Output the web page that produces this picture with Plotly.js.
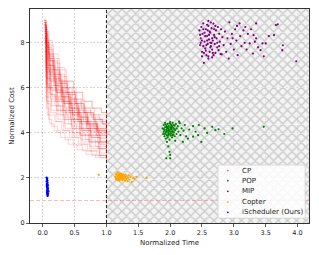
<!DOCTYPE html>
<html><head><meta charset="utf-8">
<script src="https://cdn.plot.ly/plotly-3.0.1.min.js"></script>
<style>html,body{margin:0;padding:0;background:#fff}#c{width:319px;height:255px}</style>
</head><body><div id="c"></div>
<script>
// ---- data ----
var xRange = [-0.2, 4.18];
var yRange = [0, 9.5];
var timeLimit = 1.0;
var targetCost = 1.0;
var xTicks = [0, 0.5, 1.0, 1.5, 2.0, 2.5, 3.0, 3.5, 4.0];
var yTicks = [0, 2, 4, 6, 8];
var seriesNames = ["CP", "POP", "MIP", "Copter", "iScheduler (Ours)"];
var seriesColors = ["red", "green", "purple", "orange", "blue"];

// CP anytime curves (normalized time, normalized cost)
var cpT = [
[0.02,0.05,0.09,0.16,0.27,0.38,0.52,0.66,0.81,1.0],
[0.03,0.06,0.12,0.2,0.31,0.45,0.58,0.72,0.87,1.0],
[0.02,0.05,0.1,0.18,0.29,0.41,0.55,0.7,0.85,1.0],
[0.04,0.07,0.13,0.22,0.33,0.47,0.6,0.74,0.9,1.0],
[0.03,0.05,0.11,0.19,0.28,0.4,0.53,0.67,0.83,1.0],
[0.02,0.06,0.1,0.17,0.26,0.37,0.49,0.63,0.78,0.92,1.0],
[0.04,0.06,0.14,0.24,0.35,0.48,0.62,0.76,0.9,1.0],
[0.03,0.07,0.12,0.21,0.32,0.44,0.57,0.71,0.86,1.0],
[0.02,0.05,0.09,0.15,0.25,0.36,0.5,0.64,0.8,1.0],
[0.05,0.08,0.15,0.25,0.37,0.5,0.63,0.77,0.91,1.0],
[0.03,0.06,0.11,0.2,0.3,0.43,0.56,0.69,0.84,1.0],
[0.02,0.04,0.08,0.14,0.23,0.34,0.46,0.6,0.75,0.89,1.0],
[0.04,0.06,0.1,0.19,0.3,0.42,0.56,0.7,0.85,1.0],
[0.03,0.05,0.12,0.21,0.33,0.46,0.59,0.73,0.88,1.0],
[0.02,0.06,0.1,0.18,0.27,0.39,0.52,0.65,0.8,0.94,1.0],
[0.03,0.07,0.13,0.23,0.34,0.47,0.61,0.75,0.9,1.0],
[0.04,0.06,0.11,0.2,0.31,0.43,0.57,0.7,0.86,1.0],
[0.02,0.05,0.1,0.17,0.28,0.4,0.54,0.68,0.82,1.0],
[0.05,0.07,0.14,0.24,0.36,0.49,0.62,0.76,0.9,1.0],
[0.03,0.05,0.09,0.16,0.26,0.37,0.5,0.64,0.79,0.93,1.0],
[0.02,0.06,0.12,0.22,0.33,0.45,0.58,0.72,0.87,1.0],
[0.04,0.07,0.11,0.19,0.29,0.41,0.55,0.69,0.84,1.0],
[0.03,0.06,0.1,0.18,0.3,0.44,0.57,0.71,0.85,1.0],
[0.02,0.05,0.13,0.22,0.34,0.47,0.6,0.74,0.89,1.0],
[0.04,0.06,0.1,0.16,0.25,0.35,0.47,0.61,0.76,0.9,1.0],
[0.03,0.05,0.11,0.21,0.32,0.44,0.58,0.72,0.86,1.0],
[0.02,0.07,0.12,0.2,0.31,0.43,0.56,0.7,0.85,1.0],
[0.05,0.08,0.13,0.23,0.35,0.48,0.61,0.75,0.89,1.0],
[0.03,0.05,0.09,0.17,0.27,0.39,0.52,0.66,0.81,1.0],
[0.04,0.06,0.12,0.21,0.32,0.45,0.59,0.73,0.88,1.0],
[0.02,0.04,0.1,0.18,0.28,0.4,0.53,0.67,0.82,1.0],
[0.03,0.06,0.11,0.2,0.31,0.44,0.58,0.73,0.88,1.0],
[0.02,0.05,0.08,0.15,0.24,0.35,0.48,0.62,0.77,0.92,1.0],
[0.04,0.07,0.13,0.22,0.33,0.46,0.6,0.74,0.88,1.0],
[0.03,0.05,0.1,0.19,0.3,0.42,0.55,0.69,0.84,1.0],
[0.05,0.07,0.12,0.21,0.33,0.46,0.6,0.74,0.89,1.0],
[0.02,0.06,0.11,0.19,0.29,0.41,0.54,0.68,0.83,1.0],
[0.03,0.05,0.12,0.22,0.34,0.47,0.61,0.75,0.9,1.0],
[0.04,0.06,0.1,0.17,0.27,0.38,0.51,0.65,0.8,0.94,1.0],
[0.02,0.05,0.09,0.18,0.29,0.42,0.56,0.7,0.85,1.0],
[0.04,0.07,0.11,0.18,0.28,0.4,0.54,0.68,0.83,1.0],
[0.05,0.09,0.14,0.23,0.35,0.48,0.62,0.77,0.9,1.0]
];
var cpC = [
[9.0,8.2,7.7,7.1,6.5,6.0,5.5,5.1,4.8,4.6],
[8.6,7.0,6.6,6.1,5.6,5.1,4.7,4.4,4.1,3.9],
[8.8,7.6,7.0,6.4,5.8,5.3,4.9,4.5,4.2,4.0],
[7.9,6.4,6.0,5.5,5.0,4.6,4.2,3.9,3.6,3.4],
[8.3,6.2,5.7,5.2,4.8,4.4,4.0,3.7,3.4,3.2],
[9.0,8.5,7.9,7.3,6.8,6.3,5.8,5.4,5.1,4.9,4.8],
[7.2,5.4,5.0,4.6,4.2,3.9,3.6,3.3,3.0,2.85],
[8.4,7.3,6.8,6.2,5.6,5.1,4.7,4.4,4.1,3.95],
[8.9,7.9,7.2,6.5,5.9,5.4,4.9,4.5,4.2,4.0],
[7.5,6.0,5.6,5.2,4.8,4.4,4.1,3.8,3.6,3.5],
[8.7,6.9,6.3,5.8,5.3,4.9,4.5,4.2,3.9,3.7],
[8.9,8.4,7.8,7.2,6.6,6.0,5.5,5.1,4.8,4.6,4.45],
[7.0,5.1,4.8,4.5,4.1,3.8,3.5,3.2,3.0,2.8],
[8.1,6.7,6.3,5.8,5.3,4.8,4.4,4.1,3.8,3.6],
[8.8,8.0,7.4,6.8,6.3,5.8,5.3,4.9,4.6,4.4,4.3],
[8.5,6.6,6.1,5.6,5.1,4.6,4.2,3.9,3.6,3.45],
[7.8,6.8,6.4,5.9,5.4,5.0,4.6,4.3,4.0,3.85],
[9.0,7.4,6.7,6.1,5.5,5.0,4.6,4.3,4.0,3.8],
[6.8,5.8,5.4,5.0,4.6,4.2,3.9,3.6,3.3,3.15],
[8.6,8.0,7.5,6.9,6.3,5.8,5.3,4.9,4.6,4.4,4.3],
[8.2,6.0,5.5,5.0,4.6,4.2,3.9,3.6,3.3,3.1],
[8.0,7.2,6.7,6.1,5.6,5.1,4.7,4.4,4.15,4.0],
[8.7,7.7,7.0,6.3,5.7,5.2,4.8,4.4,4.1,3.9],
[7.6,5.6,5.2,4.8,4.4,4.0,3.7,3.4,3.1,2.95],
[8.3,7.8,7.3,6.8,6.3,5.8,5.4,5.0,4.7,4.5,4.4],
[8.9,6.5,6.0,5.5,5.0,4.6,4.2,3.9,3.6,3.4],
[8.5,7.5,7.0,6.4,5.8,5.3,4.9,4.5,4.2,4.05],
[7.3,6.3,5.9,5.4,4.9,4.5,4.1,3.8,3.5,3.35],
[8.8,8.1,7.5,6.8,6.2,5.7,5.2,4.8,4.5,4.3],
[7.7,6.1,5.7,5.2,4.7,4.3,3.9,3.6,3.3,3.2],
[9.0,8.0,7.3,6.6,6.0,5.5,5.0,4.6,4.3,4.1],
[8.4,6.4,5.9,5.4,4.9,4.5,4.1,3.8,3.5,3.3],
[8.9,8.6,8.1,7.5,6.9,6.3,5.8,5.4,5.1,4.9,4.75],
[8.1,7.0,6.5,5.9,5.4,4.9,4.5,4.2,3.9,3.7],
[8.6,7.1,6.6,6.0,5.4,4.9,4.5,4.2,3.9,3.75],
[6.9,5.3,4.9,4.5,4.1,3.8,3.5,3.2,3.0,2.9],
[8.7,7.8,7.2,6.6,6.0,5.5,5.1,4.7,4.4,4.2],
[8.2,6.9,6.4,5.8,5.3,4.8,4.4,4.05,3.75,3.6],
[8.0,7.6,7.2,6.7,6.2,5.7,5.3,4.9,4.6,4.4,4.3],
[8.8,7.3,6.8,6.2,5.6,5.1,4.7,4.35,4.05,3.85],
[6.5,4.8,4.4,4.1,3.8,3.5,3.25,3.05,2.9,2.8],
[6.2,4.6,4.3,4.0,3.7,3.45,3.2,3.0,2.9,2.85]
];

var mipX = [2.46,2.48,2.47,2.5,2.49,2.52,2.53,2.51,2.54,2.55,2.56,2.57,2.58,2.6,2.59,2.61,2.62,2.6,2.63,2.64,
2.65,2.66,2.67,2.68,2.66,2.69,2.7,2.72,2.71,2.73,2.74,2.75,2.76,2.77,2.78,2.79,2.8,2.81,2.82,2.84,
2.48,2.5,2.52,2.55,2.57,2.58,2.6,2.62,2.63,2.65,2.67,2.69,2.52,2.54,2.56,2.58,2.61,2.64,2.66,2.68,
2.47,2.5,2.53,2.59,2.63,2.7,2.74,2.77,2.71,2.6,
2.86,2.88,2.9,2.93,2.95,2.97,3.0,3.02,3.04,3.06,3.09,3.1,3.12,3.15,3.17,3.2,3.22,3.25,3.27,3.3,
3.31,3.33,3.35,3.35,3.38,3.42,3.45,3.47,3.5,3.55,3.63,3.66,3.69,3.76,3.77,3.98,2.92,3.05,3.18,2.98];
var mipY = [8.55,8.2,7.9,7.6,8.7,8.86,7.11,8.4,8.05,7.75,8.6,7.45,8.3,8.97,7.95,8.15,7.6,8.75,8.45,7.85,
8.65,7.35,8.1,8.85,7.7,8.35,7.95,8.55,7.55,8.2,7.8,8.7,7.67,8.4,8.05,7.5,8.6,7.49,8.25,7.9,
8.0,7.4,8.6,8.3,7.9,8.8,7.3,8.5,7.8,8.0,7.55,8.6,7.85,8.45,7.65,8.1,8.35,8.9,8.2,7.45,
8.35,8.1,7.55,8.55,8.0,8.25,8.0,7.85,8.75,7.4,
8.5,7.6,8.2,8.91,7.95,8.4,7.7,8.6,8.1,7.45,8.86,8.3,7.85,8.55,8.0,7.7,8.4,7.97,8.6,7.52,
8.34,8.05,8.86,8.2,7.8,7.67,7.97,7.4,7.97,8.3,8.34,8.78,8.82,7.67,7.89,7.18,7.3,8.75,8.7,8.2];

var popX = [1.88,1.89,1.9,1.9,1.91,1.92,1.92,1.93,1.93,1.94,1.94,1.95,1.95,1.96,1.96,1.97,1.97,1.98,1.98,1.99,
1.99,2.0,2.0,2.01,2.01,2.02,2.02,2.03,2.03,2.04,2.04,2.05,2.05,2.06,2.07,2.07,2.08,2.09,2.1,2.1,
1.91,1.93,1.95,1.97,1.99,2.01,2.03,2.05,1.94,1.96,1.98,2.0,2.02,2.04,1.92,2.06,1.9,2.0,1.97,2.02,
2.12,2.13,2.14,2.15,2.16,2.18,2.2,2.21,2.23,2.25,2.28,2.3,2.36,2.36,2.4,2.44,2.45,2.49,2.54,2.58,
2.66,2.71,2.76,2.85,2.98,3.47,
1.99,2.0,1.94,2.0,1.97,2.08,1.95];
var popY = [4.2,3.95,4.35,4.05,3.85,4.25,4.45,4.0,3.75,4.15,4.3,3.9,4.1,4.4,3.8,4.2,4.0,4.3,3.95,4.1,
3.7,4.25,4.05,3.88,4.38,4.15,3.98,4.28,3.8,4.1,4.45,3.92,4.22,4.02,4.32,3.85,4.12,4.4,3.95,4.2,
4.12,4.38,4.22,3.88,4.42,4.18,4.05,4.35,4.05,4.28,4.15,3.95,4.32,3.9,3.95,4.18,4.18,4.48,4.08,4.22,
4.3,4.05,4.5,4.43,3.9,4.2,3.6,4.1,4.35,3.85,3.75,4.15,4.3,3.83,4.05,3.9,4.35,3.6,4.2,4.0,
4.27,4.12,4.16,3.95,4.2,4.27,
3.16,3.02,2.87,2.87,3.4,3.65,3.6];

var copX = [1.14,1.15,1.15,1.16,1.16,1.17,1.17,1.18,1.18,1.19,1.19,1.2,1.2,1.21,1.21,1.22,1.22,1.23,1.23,1.24,
1.24,1.25,1.25,1.26,1.26,1.27,1.28,1.28,1.29,1.3,1.3,1.31,1.32,1.33,1.34,1.35,1.36,1.38,1.4,1.42,
1.44,1.47,1.63,0.88,1.17,1.19,1.21,1.23,1.18,1.2];
var copY = [2.05,2.15,1.95,2.2,2.0,2.1,1.9,2.25,2.05,1.98,2.15,2.08,1.88,2.2,2.0,2.12,1.93,2.05,2.18,1.97,
2.1,2.02,1.9,2.15,2.07,1.95,2.1,2.0,1.88,2.05,2.15,1.95,2.08,1.85,2.0,2.12,1.92,2.05,1.83,2.0,
1.95,2.05,2.0,2.14,2.0,2.1,1.95,2.0,1.92,2.16];

var isX = [0.06,0.065,0.07,0.06,0.075,0.065,0.07,0.08,0.065,0.075,0.07,0.08,0.065,0.075,0.07,0.085,0.07,0.08,0.075,0.068,
0.072,0.078,0.082,0.066,0.09,0.07,0.076,0.062];
var isY = [2.02,1.95,1.9,1.85,1.8,1.75,1.7,1.65,1.6,1.55,1.5,1.45,1.42,1.38,1.35,1.3,1.27,1.23,1.2,1.62,
1.88,1.72,1.52,1.33,1.4,1.98,1.58,1.68];

// ---- build ----
var traces = [];
// infeasible (time > limit) hatched region
traces.push({
  x: [timeLimit, xRange[1], xRange[1], timeLimit, timeLimit],
  y: [yRange[0], yRange[0], yRange[1], yRange[1], yRange[0]],
  mode: 'lines', fill: 'toself', line: {width: 0},
  fillcolor: 'rgba(0,0,0,0)',
  fillpattern: {shape: 'x', size: 6.5, solidity: 0.38, fgcolor: '#c6c6c6', fgopacity: 0.9, bgcolor: 'rgba(236,236,236,0.6)'},
  hoverinfo: 'skip', showlegend: false
});
// time-limit line
traces.push({x: [timeLimit, timeLimit], y: yRange, mode: 'lines',
  line: {color: '#222', width: 1, dash: '3px,2px'}, hoverinfo: 'skip', showlegend: false});
for (var i = 0; i < cpT.length; i++) {
  traces.push({x: cpT[i], y: cpC[i], mode: 'lines', line: {color: 'rgba(255,0,0,0.22)', width: 0.8, shape: 'hv'},
    showlegend: false, hoverinfo: 'skip'});
}
function pts(x, y, c) { return {x: x, y: y, mode: 'markers', marker: {color: c, size: 2.2, line: {width: 0}}, showlegend: false}; }
traces.push(pts(popX, popY, seriesColors[1]));
traces.push(pts(mipX, mipY, seriesColors[2]));
traces.push(pts(copX, copY, seriesColors[3]));
traces.push(pts(isX, isY, seriesColors[4]));

var font = {family: 'DejaVu Sans, sans-serif', color: '#222'};
var shapes = [
  {type: 'line', xref: 'paper', x0: 0, x1: 1, yref: 'y', y0: targetCost, y1: targetCost,
   line: {color: 'rgba(255,120,140,0.55)', width: 1, dash: '4px,2px'}, layer: 'above'},
  {type: 'rect', xref: 'paper', yref: 'paper', x0: 0.674, x1: 0.986, y0: 0.023, y1: 0.271,
   fillcolor: 'rgba(255,255,255,0.85)', line: {color: '#d4d4d4', width: 0.8}, layer: 'above'}
];
var annotations = [];
var legY = [0.245, 0.198, 0.148, 0.098, 0.050];
for (var k = 0; k < seriesNames.length; k++) {
  shapes.push({type: 'circle', xref: 'paper', yref: 'paper', xsizemode: 'pixel', ysizemode: 'pixel',
    xanchor: 0.709, yanchor: legY[k], x0: -0.9, x1: 0.9, y0: -0.9, y1: 0.9,
    fillcolor: seriesColors[k], line: {width: 0}, layer: 'above',
    opacity: k === 0 ? 0.6 : 1});
  annotations.push({xref: 'paper', yref: 'paper', x: 0.752, y: legY[k], xanchor: 'left', yanchor: 'middle',
    text: seriesNames[k], showarrow: false, font: {family: font.family, size: 7, color: '#222'}});
}

var layout = {
  width: 319, height: 255,
  margin: {l: 30, r: 10, t: 9, b: 32},
  paper_bgcolor: '#fff', plot_bgcolor: '#fff',
  font: {family: font.family, size: 6.5, color: '#222'},
  showlegend: false,
  xaxis: {range: xRange, tickvals: xTicks, tickformat: '.1f', showgrid: true, gridcolor: '#c4c4c4', gridwidth: 0.7,
    griddash: '2px,1.5px', zeroline: false, showline: true, mirror: true, linecolor: '#333', linewidth: 1,
    ticks: 'outside', ticklen: 3, tickwidth: 0.8, tickcolor: '#333', tickfont: {size: 6.5},
    title: {text: 'Normalized Time', font: {size: 7}, standoff: 4}},
  yaxis: {range: yRange, tickvals: yTicks, showgrid: true, gridcolor: '#c4c4c4', gridwidth: 0.7,
    griddash: '2px,1.5px', zeroline: false, showline: true, mirror: true, linecolor: '#333', linewidth: 1,
    ticks: 'outside', ticklen: 3, tickwidth: 0.8, tickcolor: '#333', tickfont: {size: 6.5},
    title: {text: 'Normalized Cost', font: {size: 7}, standoff: 5}},
  shapes: shapes,
  annotations: annotations
};
Plotly.newPlot('c', traces, layout, {staticPlot: true, displayModeBar: false});
</script></body></html>
